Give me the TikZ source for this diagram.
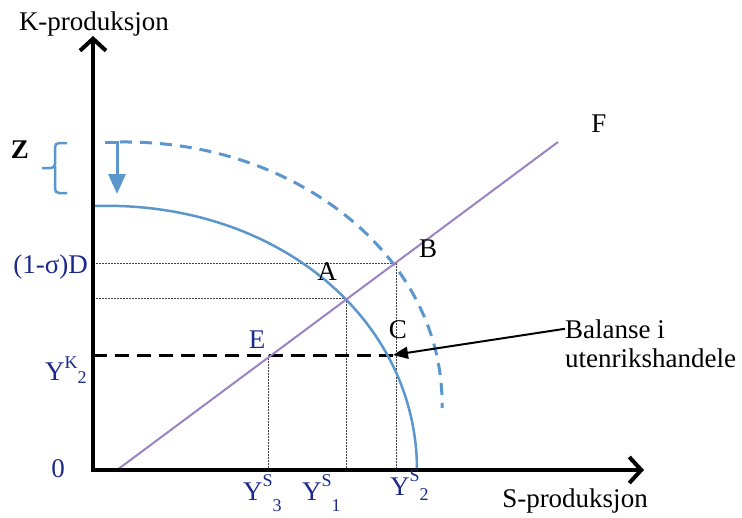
\documentclass[tikz,border=0pt]{standalone}
\usepackage{fontspec}
\setmainfont{Liberation Serif}
\usetikzlibrary{arrows.meta}
\definecolor{cblue}{RGB}{91,150,205}
\definecolor{cpurple}{RGB}{155,130,195}
\definecolor{ctext}{RGB}{28,42,140}
\newcommand\lblsm{\fontsize{18}{18}\selectfont}
\begin{document}
\begin{tikzpicture}[x=1pt,y=-1pt,
 lab/.style={inner sep=0pt, font=\fontsize{27}{30}\selectfont},
 bluelab/.style={lab, text=ctext},
 axisline/.style={line width=4pt, black, line join=miter},
 curve/.style={cblue, line width=2.5pt},
 dashcurve/.style={cblue, line width=3pt, dash pattern=on 12pt off 8pt},
 guide/.style={black!75, line width=0.8pt, dash pattern=on 1.5pt off 1.5pt},
 baldash/.style={black, line width=3pt, dash pattern=on 14pt off 8pt},
]
\fill[white] (0,0) rectangle (742,517);
\useasboundingbox (0,0) rectangle (742,517);

% key coordinates
\coordinate (O) at (93,470);
\coordinate (yt) at (93,36);
\coordinate (xt) at (644,470);
\coordinate (F0) at (117,470);
\coordinate (F1) at (558,142);
\coordinate (A) at (346,298);
\coordinate (B) at (396,263);
\coordinate (C) at (393,355);
\coordinate (E) at (268,355);
\coordinate (s0) at (93,206);
\coordinate (s1) at (417,470);
\coordinate (d0) at (120,142);
\coordinate (d1) at (442,408);
\coordinate (zt) at (105,142);
\coordinate (zc) at (117,142);
\coordinate (zb) at (117,194);

% guides
\draw[guide] (B -| O) -- (B);
\draw[guide] (B) -- (B |- O);
\draw[guide] (A -| O) -- (A);
\draw[guide] (A) -- (A |- O);
\draw[guide] (E) -- (E |- O);
\draw[baldash] (C -| O) -- (C);

% curves
\draw[curve] (s0) .. controls (278,200) and (417,320) .. (s1);
\draw[dashcurve] (d0) .. controls (300,140) and (445,260) .. (d1);
\draw[cpurple, line width=2pt] (F0) -- (F1);

% shift arrow and brace
\draw[cblue, line width=3pt, -{Triangle[length=20pt,width=17pt]}] (zt) -- (zc) -- (zb);
\draw[cblue, line width=2.5pt, rounded corners=4pt] (67,143) -- (55,143) -- (55,168) -- (42,168);
\draw[cblue, line width=2.5pt, rounded corners=4pt] (55,166) -- (55,193) -- (67,193);

% axes
\draw[axisline, {Straight Barb[length=12pt,width=26pt]}-{Straight Barb[length=12pt,width=26pt]}] (yt) -- (O) -- (xt);

% labels
\node[lab, anchor=base] (kp) at (94,30) {K-produksjon};
\node[lab, anchor=base] (sp) at (575,507) {S-produksjon};
\node[bluelab, anchor=base] (zero) at (58,477) {0};
\node[bluelab, anchor=base east] (sd) at (88,273) {(1-σ)D};
\node[bluelab, anchor=base west] (yk2) at (45,380) {Y\raisebox{12pt}{\lblsm K}\raisebox{-3pt}{\lblsm 2}};
\node[bluelab, anchor=base west] (ys3) at (243,500) {Y\raisebox{14pt}{\lblsm S}\raisebox{-11pt}{\lblsm 3}};
\node[bluelab, anchor=base west] (ys1) at (302,500) {Y\raisebox{14pt}{\lblsm S}\raisebox{-11pt}{\lblsm 1}};
\node[bluelab, anchor=base west] (ys2) at (390,495) {Y\raisebox{14pt}{\lblsm S}\raisebox{-5pt}{\lblsm 2}};
\node[lab, anchor=base] (la) at (327,280) {A};
\node[lab, anchor=base] (lb) at (428,257) {B};
\node[lab, anchor=base] (lc) at (398,338) {C};
\node[bluelab, anchor=base] (le) at (257,348) {E};
\node[lab, anchor=base] (lf) at (599,132) {F};
\node[lab, anchor=base, font=\fontsize{27}{30}\selectfont\bfseries] (lz) at (20,158) {Z};
\node[lab, anchor=base west] (bal1) at (565,338) {Balanse i};
\node[lab, anchor=base west] (bal2) at (565,367) {utenrikshandele};

\draw[black, line width=2pt, -{Triangle[length=15pt,width=12pt]}] (bal1.west) -- (C);
\end{tikzpicture}
\end{document}
